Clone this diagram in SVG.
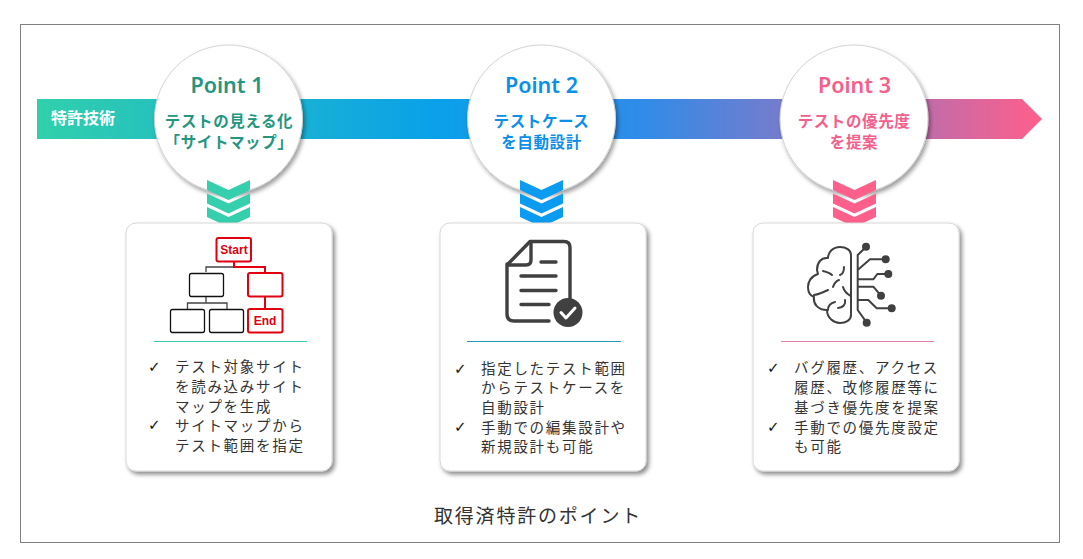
<svg xmlns="http://www.w3.org/2000/svg" width="1083" height="559" viewBox="0 0 1083 559">
<style>
text{font-family:"Noto Sans CJK JP","Noto Sans",sans-serif}
.pt{font-size:21.500px;font-weight:600;text-anchor:middle;font-family:"Noto Sans","Noto Sans CJK JP",sans-serif}
.sub{font-size:15.500px;font-weight:700;text-anchor:middle;letter-spacing:.6px}
.li{font-size:14.500px;fill:#333;letter-spacing:1.700px}
.ck{font-size:15px;font-weight:700;fill:#111;font-family:"DejaVu Sans",sans-serif}
.circ{fill:#fff;stroke:#d4d4d4;stroke-width:1;filter:url(#sh)}
.card{fill:#fff;stroke:#d8d8d8;stroke-width:1;filter:url(#sh2)}
.blk{fill:#fff;stroke:#111;stroke-width:1.300}
.red{fill:#fff;stroke:#e0000f;stroke-width:2}
.rl{fill:none;stroke:#e0000f;stroke-width:2}
.gl{fill:none;stroke:#444;stroke-width:1.300}
.rt{font-size:12px;font-weight:700;fill:#e0000f;text-anchor:middle;font-family:"Liberation Sans",sans-serif}
.ic{fill:none;stroke:#404040;stroke-width:3.400;stroke-linecap:round;stroke-linejoin:round}
.ib{fill:none;stroke:#404040;stroke-width:2;stroke-linecap:round;stroke-linejoin:round}
</style>
<defs>
<linearGradient id="bar" x1="37" y1="0" x2="1042" y2="0" gradientUnits="userSpaceOnUse">
<stop offset="0" stop-color="#31d0ab"/><stop offset=".4" stop-color="#0aa0ea"/><stop offset=".6" stop-color="#2f8ce8"/><stop offset=".75" stop-color="#7a7bcb"/><stop offset="1" stop-color="#ff5f8b"/>
</linearGradient>
<filter id="sh" x="-20%" y="-20%" width="140%" height="140%"><feDropShadow dx="2" dy="3" stdDeviation="2" flood-color="#000" flood-opacity=".38"/></filter>
<filter id="sh2" x="-10%" y="-10%" width="120%" height="120%"><feDropShadow dx="2.500" dy="3" stdDeviation="2" flood-color="#000" flood-opacity=".45"/></filter>
<path id="chev" d="M-21.500 0L0 10L21.500 0V10L0 20L-21.500 10Z"/>
</defs>
<rect id="frame" x="20.500" y="24.500" width="1039" height="518" fill="#fff" stroke="#808080"/>
<g id="arrow">
<path d="M37 99H1022L1042 119L1022 139H37Z" fill="url(#bar)"/>
<text x="83" y="124" font-size="16" font-weight="700" fill="#fff" text-anchor="middle">特許技術</text>
</g>
<g id="point1">
<circle class="circ" cx="228.500" cy="119" r="74"/>
<text class="pt" x="227" y="93" fill="#23967f">Point 1</text>
<text class="sub" x="229" y="127" fill="#23967f">テストの見える化</text>
<text class="sub" x="229" y="148" fill="#23967f">「サイトマップ」</text>
</g>
<g id="point2">
<circle class="circ" cx="541.500" cy="119" r="74"/>
<text class="pt" x="541.500" y="93" fill="#0b8fe8">Point 2</text>
<text class="sub" x="541.500" y="127" fill="#0b8fe8">テストケース</text>
<text class="sub" x="541.500" y="148" fill="#0b8fe8">を自動設計</text>
</g>
<g id="point3">
<circle class="circ" cx="854" cy="119" r="74"/>
<text class="pt" x="854.500" y="93" fill="#f4608c">Point 3</text>
<text class="sub" x="854" y="127" fill="#f4608c">テストの優先度</text>
<text class="sub" x="854" y="148" fill="#f4608c">を提案</text>
</g>
<g id="connectors">
<g fill="#35cfae"><use href="#chev" x="228.500" y="180"/><use href="#chev" x="228.500" y="193.500"/><use href="#chev" x="228.500" y="207"/></g>
<g fill="#0b9bf0"><use href="#chev" x="541.500" y="180"/><use href="#chev" x="541.500" y="193.500"/><use href="#chev" x="541.500" y="207"/></g>
<g fill="#ff5f8b"><use href="#chev" x="854.500" y="180"/><use href="#chev" x="854.500" y="193.500"/><use href="#chev" x="854.500" y="207"/></g>
</g>
<g id="card1">
<rect class="card" x="126" y="223" width="206" height="248" rx="10"/>
<g>
<path class="gl" d="M206 272V267H234M206 296V303M187.500 309V303H227V309"/>
<path class="rl" d="M234 262V267H265V273M265 296V309"/>
<rect class="red" x="216.500" y="238" width="34.500" height="23.500" rx="2"/>
<text class="rt" x="234" y="254">Start</text>
<rect class="blk" x="189.500" y="273.500" width="34" height="23" rx="2"/>
<rect class="red" x="248" y="273" width="34.500" height="23.500" rx="2"/>
<rect class="blk" x="170.500" y="309.500" width="34" height="23" rx="2"/>
<rect class="blk" x="209.500" y="309.500" width="34" height="23" rx="2"/>
<rect class="red" x="248" y="309" width="34.500" height="23.500" rx="2"/>
<text class="rt" x="265" y="324.500">End</text>
</g>
<rect x="154" y="341" width="153" height="1" fill="#3cc8b4"/>
<text class="ck" x="148" y="372">✓</text><text class="ck" x="148" y="430">✓</text>
<text class="li" x="175" y="372">テスト対象サイト</text>
<text class="li" x="175" y="392">を読み込みサイト</text>
<text class="li" x="175" y="412">マップを生成</text>
<text class="li" x="175" y="431">サイトマップから</text>
<text class="li" x="175" y="451">テスト範囲を指定</text>
</g>
<g id="card2">
<rect class="card" x="440" y="223" width="206" height="248" rx="10"/>
<g>
<path class="ic" d="M508 264L530 241.500H564Q570 241.500 570 247.500V298M507 264V314Q507 321 514 321H549"/>
<path class="ic" d="M508 265H526Q531 265 531 260V242"/>
<path class="ic" d="M541 262H556M521 276H556M521 290.500H556M521 304.500H549" stroke-width="3"/>
<circle cx="568" cy="312.500" r="14.500" fill="#404040"/>
<path d="M561 312.500L566 318L575 308" fill="none" stroke="#fff" stroke-width="3" stroke-linecap="round" stroke-linejoin="round"/>
</g>
<rect x="467" y="341" width="154" height="1" fill="#1f98b0"/>
<text class="ck" x="454" y="374">✓</text><text class="ck" x="454" y="432">✓</text>
<text class="li" x="481" y="374">指定したテスト範囲</text>
<text class="li" x="481" y="393">からテストケースを</text>
<text class="li" x="481" y="413">自動設計</text>
<text class="li" x="481" y="433">手動での編集設計や</text>
<text class="li" x="481" y="452">新規設計も可能</text>
</g>
<g id="card3">
<rect class="card" x="753" y="223" width="206" height="248" rx="10"/>
<g>
<path class="ib" d="M851 255C851 250 846 247 840 247C833 247 828 252 828 258C821 257 817 263 817 270L818 274C811 276 808 282 808 287C808 293 811 296 814 297C813 304 818 310 827 310C827 318 834 323 840 323C846 323 851 320 851 315Z"/>
<path class="ib" d="M844 267C844 271 843 274 840 275M823 271C827 272 830 273 832 275M839 280C836 281 834 284 833 287M828 290C824 292 820 294 814 295M843 287C844 291 847 294 851 296M835 302C831 303 828 305 828 310M845 300C846 304 843 308 838 308"/>
<path class="ib" d="M866 247L857.700 255V310L866.700 322.700M857.700 270L870 259.300H885M857.700 279.300H873.300L877.300 274H888M857.700 286.700H873.300L881 295.700M857.700 300H868.300L876.700 308.300H891"/>
<g fill="#404040"><circle cx="866" cy="246.700" r="4"/><circle cx="885.700" cy="259.300" r="4"/><circle cx="888.300" cy="274" r="4"/><circle cx="881" cy="295.700" r="4"/><circle cx="891.700" cy="308.300" r="4"/><circle cx="866.700" cy="322.700" r="4"/></g>
</g>
<rect x="781" y="341" width="153" height="1" fill="#e27fb0"/>
<text class="ck" x="767" y="373">✓</text><text class="ck" x="767" y="432">✓</text>
<text class="li" x="794" y="373">バグ履歴、アクセス</text>
<text class="li" x="794" y="393">履歴、改修履歴等に</text>
<text class="li" x="794" y="413">基づき優先度を提案</text>
<text class="li" x="794" y="433">手動での優先度設定</text>
<text class="li" x="794" y="452">も可能</text>
</g>
<text id="caption" x="538" y="523" font-size="19" fill="#333" text-anchor="middle" letter-spacing="1.800">取得済特許のポイント</text>
</svg>
